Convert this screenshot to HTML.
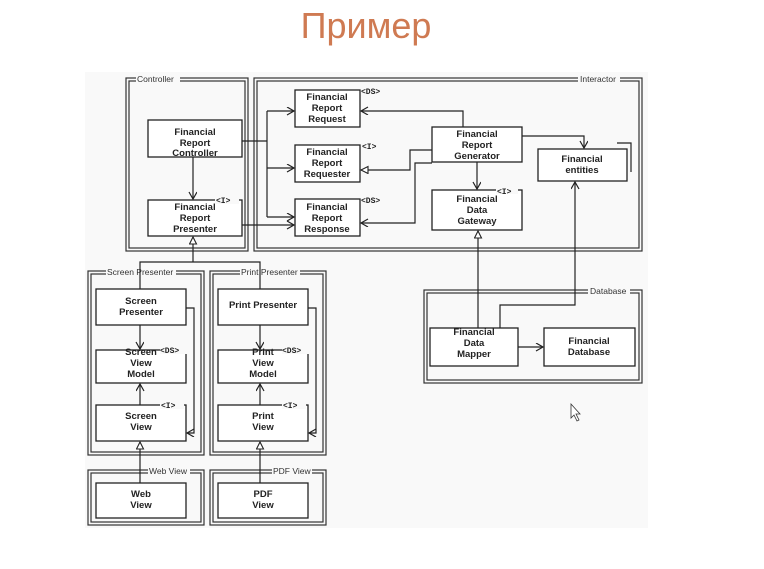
<!DOCTYPE html>
<html><head><meta charset="utf-8"><style>
body{margin:0;background:#fff;width:764px;height:569px;overflow:hidden}
svg{position:absolute;left:0;top:0}
.t{font-family:"Liberation Sans",sans-serif;font-weight:bold;font-size:9.5px;fill:#222;text-anchor:middle}
.l{font-family:"Liberation Sans",sans-serif;font-size:8.5px;fill:#333}
.s{font-family:"Liberation Mono",monospace;font-size:8px;font-weight:bold;fill:#222}
</style></head><body>
<svg width="764" height="569" viewBox="0 0 764 569">
<defs>
<marker id="a" markerWidth="10" markerHeight="10" refX="8" refY="4" orient="auto" markerUnits="userSpaceOnUse"><path d="M1,0 L8,4 L1,8" fill="none" stroke="#222" stroke-width="1.2"/></marker>
<marker id="h" markerWidth="10" markerHeight="10" refX="8" refY="4" orient="auto" markerUnits="userSpaceOnUse"><path d="M1,0.5 L8,4 L1,7.5 Z" fill="#fff" stroke="#222" stroke-width="1.1"/></marker>
</defs>
<text x="366" y="38" text-anchor="middle" font-family="Liberation Sans,DejaVu Sans,sans-serif" font-size="36" fill="#cf7a52">Пример</text>
<rect x="85" y="72" width="563" height="456" fill="#f9f9f9"/>
<g fill="none" stroke="#333" stroke-width="1.2">
<rect x="126" y="78" width="122" height="173"/><rect x="129" y="81" width="116" height="167"/>
<rect x="254" y="78" width="388" height="173"/><rect x="257" y="81" width="382" height="167"/>
<rect x="88" y="271" width="116" height="184"/><rect x="91" y="274" width="110" height="178"/>
<rect x="210" y="271" width="116" height="184"/><rect x="213" y="274" width="110" height="178"/>
<rect x="88" y="470" width="116" height="55"/><rect x="91" y="473" width="110" height="49"/>
<rect x="210" y="470" width="116" height="55"/><rect x="213" y="473" width="110" height="49"/>
<rect x="424" y="290" width="218" height="93"/><rect x="427" y="293" width="212" height="87"/>
</g>
<g fill="#f9f9f9">
<rect x="136" y="74" width="44" height="8"/><rect x="578" y="74" width="42" height="8"/>
<rect x="106" y="267" width="70" height="8"/><rect x="240" y="267" width="60" height="8"/>
<rect x="148" y="466" width="42" height="8"/><rect x="272" y="466" width="40" height="8"/>
<rect x="588" y="286" width="42" height="8"/>
</g>
<text class="l" x="137" y="82">Controller</text>
<text class="l" x="580" y="82">Interactor</text>
<text class="l" x="107" y="275">Screen Presenter</text>
<text class="l" x="241" y="275">Print Presenter</text>
<text class="l" x="149" y="474">Web View</text>
<text class="l" x="273" y="474">PDF View</text>
<text class="l" x="590" y="294">Database</text>
<g fill="#fff" stroke="#222" stroke-width="1.3">
<rect x="148" y="120" width="94" height="37"/>
<rect x="148" y="200" width="94" height="36"/>
<rect x="295" y="90" width="65" height="37"/>
<rect x="295" y="145" width="65" height="37"/>
<rect x="295" y="199" width="65" height="37"/>
<rect x="432" y="127" width="90" height="35"/>
<rect x="432" y="190" width="90" height="40"/>
<rect x="538" y="149" width="89" height="32"/>
<rect x="96" y="289" width="90" height="36"/>
<rect x="96" y="350" width="90" height="33"/>
<rect x="96" y="405" width="90" height="36"/>
<rect x="96" y="483" width="90" height="35"/>
<rect x="218" y="289" width="90" height="36"/>
<rect x="218" y="350" width="90" height="33"/>
<rect x="218" y="405" width="90" height="36"/>
<rect x="218" y="483" width="90" height="35"/>
<rect x="430" y="328" width="88" height="38"/>
<rect x="544" y="328" width="91" height="38"/>
</g>
<path d="M617,143 H631 V172" fill="none" stroke="#222" stroke-width="1.2"/>
<g fill="#f9f9f9"><rect x="361" y="86" width="26" height="9"/><rect x="362" y="140" width="20" height="9"/><rect x="361" y="195" width="26" height="9"/><rect x="215" y="195" width="24" height="9"/><rect x="496" y="185" width="22" height="9"/><rect x="160" y="345" width="28" height="9"/><rect x="160" y="400" width="24" height="9"/><rect x="282" y="345" width="28" height="9"/><rect x="282" y="400" width="24" height="9"/></g>
<text class="s" x="361" y="94">&lt;DS&gt;</text><text class="s" x="362" y="149">&lt;I&gt;</text><text class="s" x="361" y="203">&lt;DS&gt;</text>
<text class="s" x="216" y="203">&lt;I&gt;</text><text class="s" x="497" y="194">&lt;I&gt;</text>
<text class="s" x="160" y="353">&lt;DS&gt;</text><text class="s" x="161" y="408">&lt;I&gt;</text>
<text class="s" x="282" y="353">&lt;DS&gt;</text><text class="s" x="283" y="408">&lt;I&gt;</text>
<g class="t">
<text x="195" y="135">Financial</text><text x="195" y="146">Report</text><text x="195" y="157" dy="-1">Controller</text>
<text x="195" y="210">Financial</text><text x="195" y="221">Report</text><text x="195" y="232">Presenter</text>
<text x="327" y="100">Financial</text><text x="327" y="111">Report</text><text x="327" y="122">Request</text>
<text x="327" y="155">Financial</text><text x="327" y="166">Report</text><text x="327" y="177">Requester</text>
<text x="327" y="210">Financial</text><text x="327" y="221">Report</text><text x="327" y="232">Response</text>
<text x="477" y="137">Financial</text><text x="477" y="148">Report</text><text x="477" y="159">Generator</text>
<text x="477" y="202">Financial</text><text x="477" y="213">Data</text><text x="477" y="224">Gateway</text>
<text x="582" y="162">Financial</text><text x="582" y="173">entities</text>
<text x="141" y="304">Screen</text><text x="141" y="315">Presenter</text>
<text x="141" y="355">Screen</text><text x="141" y="366">View</text><text x="141" y="377">Model</text>
<text x="141" y="419">Screen</text><text x="141" y="430">View</text>
<text x="141" y="497">Web</text><text x="141" y="508">View</text>
<text x="263" y="308">Print Presenter</text>
<text x="263" y="355">Print</text><text x="263" y="366">View</text><text x="263" y="377">Model</text>
<text x="263" y="419">Print</text><text x="263" y="430">View</text>
<text x="263" y="497">PDF</text><text x="263" y="508">View</text>
<text x="474" y="335">Financial</text><text x="474" y="346">Data</text><text x="474" y="357">Mapper</text>
<text x="589" y="344">Financial</text><text x="589" y="355">Database</text>
</g>
<g fill="none" stroke="#222" stroke-width="1.2">
<path d="M193,157 V199" marker-end="url(#a)"/>
<path d="M242,141 H267 M267,111 V217"/>
<path d="M267,111 H294" marker-end="url(#a)"/>
<path d="M267,168 H294" marker-end="url(#a)"/>
<path d="M267,217 H294" marker-end="url(#a)"/>
<path d="M242,225 H294" marker-end="url(#a)"/>
<path d="M463,127 V111 H361" marker-end="url(#a)"/>
<path d="M432,150 H410 V170 H361" marker-end="url(#h)"/>
<path d="M432,163 H415 V223 H361" marker-end="url(#a)"/>
<path d="M477,162 V189" marker-end="url(#a)"/>
<path d="M522,136 H584 V148" marker-end="url(#a)"/>
<path d="M478,328 V231" marker-end="url(#h)"/>
<path d="M500,328 V305 H575 V182" marker-end="url(#a)"/>
<path d="M518,347 H543" marker-end="url(#a)"/>
<path d="M193,262 V237" marker-end="url(#h)"/>
<path d="M140,289 V262 H260 V289"/>
<path d="M140,325 V349" marker-end="url(#a)"/>
<path d="M140,405 V384" marker-end="url(#a)"/>
<path d="M186,308 H194 V433 H187" marker-end="url(#a)"/>
<path d="M140,483 V442" marker-end="url(#h)"/>
<path d="M260,325 V349" marker-end="url(#a)"/>
<path d="M260,405 V384" marker-end="url(#a)"/>
<path d="M308,308 H316 V433 H309" marker-end="url(#a)"/>
<path d="M260,483 V442" marker-end="url(#h)"/>
</g>
<path d="M571,404 V418 L574,415 L577,421 L579,420 L576,414 L580,414 Z" fill="#fff" stroke="#333" stroke-width="0.8"/>
</svg>
</body></html>
